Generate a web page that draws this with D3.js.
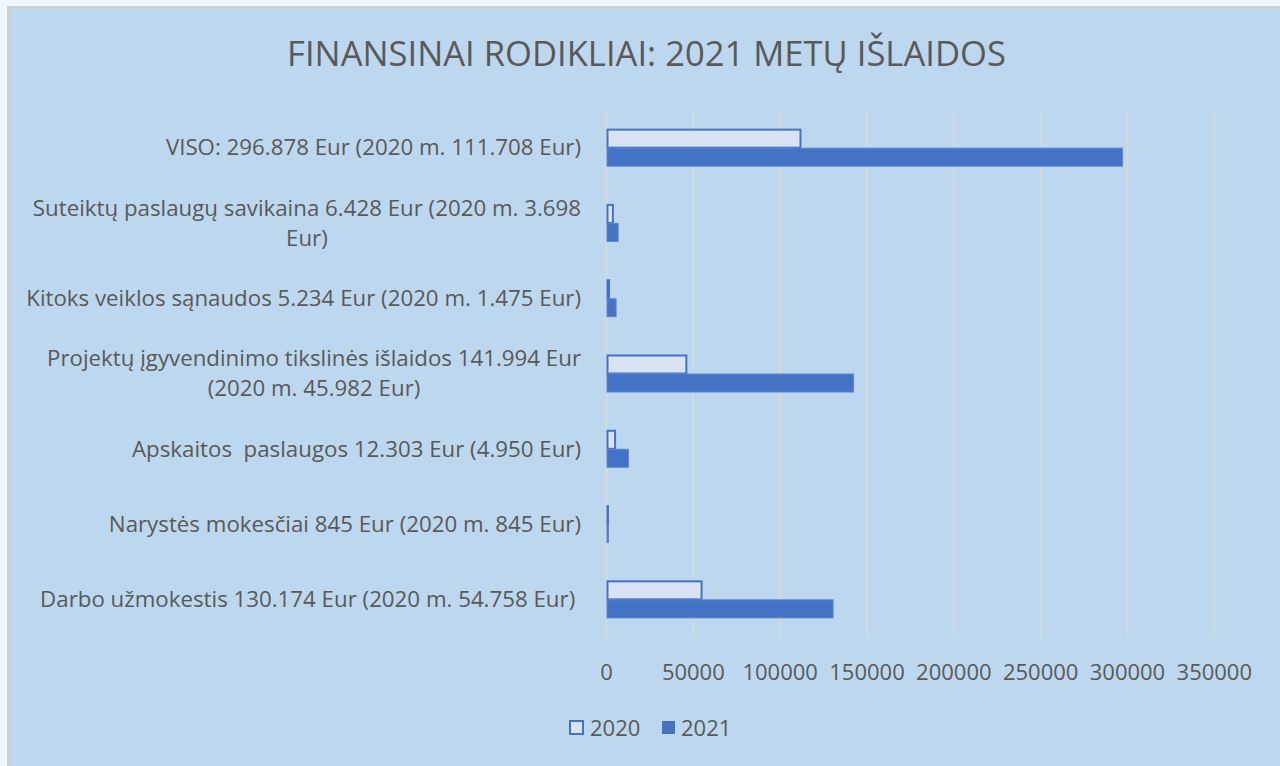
<!DOCTYPE html>
<html>
<head>
<meta charset="utf-8">
<script src="https://cdn.jsdelivr.net/npm/d3@7"></script>
<style>
  html, body { margin: 0; padding: 0; background: #EEF6FF; }
  svg { display: block; font-family: "Open Sans", sans-serif; }
  .lbl { white-space: pre; }
</style>
</head>
<body>
<svg id="chart" width="1280" height="766"></svg>
<script>
// Category labels (top to bottom), each split into display lines
const categories = ['VISO', 'Suteiktu', 'Kitoks', 'Projektu', 'Apskaitos', 'Narystes', 'Darbo'];
const labelLines = [
    ['VISO: 296.878 Eur (2020 m. 111.708 Eur)'],
    ['Suteiktų paslaugų savikaina 6.428 Eur (2020 m. 3.698', 'Eur)'],
    ['Kitoks veiklos sąnaudos 5.234 Eur (2020 m. 1.475 Eur)'],
    ['Projektų įgyvendinimo tikslinės išlaidos 141.994 Eur', '(2020 m. 45.982 Eur)'],
    ['Apskaitos  paslaugos 12.303 Eur (4.950 Eur)'],
    ['Narystės mokesčiai 845 Eur (2020 m. 845 Eur)'],
    ['Darbo užmokestis 130.174 Eur (2020 m. 54.758 Eur) ']
];
const values2020 = [111708, 3698, 1475, 45982, 4950, 845, 54758];
const values2021 = [296878, 6428, 5234, 141994, 12303, 845, 130174];
const seriesNames = ['2020', '2021'];
const xTicks = [0, 50000, 100000, 150000, 200000, 250000, 300000, 350000];
const titleText = 'FINANSINAI RODIKLIAI: 2021 METŲ IŠLAIDOS';

const TEXT = '#595959';
const BLUE = '#4472C4';
const LIGHT = '#DAE3F3';
const GRID = '#D9D9D9';

const svg = d3.select('#chart');

// chart area background + border
svg.append('rect').attr('x', 7).attr('y', 6).attr('width', 1290).attr('height', 780)
    .attr('fill', '#D0D0D0');
svg.append('rect').attr('x', 10).attr('y', 8).attr('width', 1290).attr('height', 780)
    .attr('fill', '#BDD7EE');

const plot = { left: 606.5, right: 1214.3, top: 110, bottom: 637 };

const x = d3.scaleLinear().domain([0, 350000]).range([plot.left, plot.right]);
const y = d3.scaleBand().domain(categories).range([plot.top, plot.bottom])
    .paddingInner(0.495).paddingOuter(0.2475);
const ySub = d3.scaleBand().domain(seriesNames).range([0, y.bandwidth()]);

// fit a font size so the text matches a target width
function fitSize(text, target, base) {
    const t = svg.append('text').attr('class', 'lbl').attr('font-size', base).text(text);
    const w = t.node().getComputedTextLength();
    t.remove();
    return base * target / w;
}

// title
const titleSize = fitSize(titleText, 719, 30);
svg.append('text')
    .attr('x', 646.5).attr('y', 66)
    .attr('text-anchor', 'middle')
    .attr('font-size', titleSize)
    .attr('fill', TEXT)
    .text(titleText);

// gridlines
svg.append('g').selectAll('line')
    .data(xTicks)
    .join('line')
    .attr('x1', d => x(d)).attr('x2', d => x(d))
    .attr('y1', plot.top).attr('y2', plot.bottom)
    .attr('stroke', GRID).attr('stroke-width', 1.5);

// x axis tick labels
const tickSize = 22;
svg.append('g').selectAll('text')
    .data(xTicks)
    .join('text')
    .attr('x', d => x(d)).attr('y', 680)
    .attr('text-anchor', 'middle')
    .attr('font-size', tickSize)
    .attr('fill', TEXT)
    .text(d => d);

// bars
const rows = categories.map((c, i) => ({ cat: c, v2020: values2020[i], v2021: values2021[i] }));

svg.append('g').selectAll('rect')
    .data(rows)
    .join('rect')
    .attr('x', x(0) + 1)
    .attr('y', d => y(d.cat) + ySub('2020') + 1)
    .attr('width', d => Math.max(0, x(d.v2020) - x(0) - 1))
    .attr('height', ySub.bandwidth() - 1)
    .attr('fill', LIGHT)
    .attr('stroke', BLUE)
    .attr('stroke-width', 2);

svg.append('g').selectAll('rect')
    .data(rows)
    .join('rect')
    .attr('x', x(0) + 0.5)
    .attr('y', d => y(d.cat) + ySub('2021') + 0.5)
    .attr('width', d => x(d.v2021) - x(0))
    .attr('height', ySub.bandwidth() - 1)
    .attr('fill', BLUE)
    .attr('stroke', '#5B86D0')
    .attr('stroke-width', 1);

// category labels
const labelSize = fitSize(labelLines[2][0], 555, 20);
const lineH = labelSize * 1.33;
const labelRight = 581;

categories.forEach((c, i) => {
    const lines = labelLines[i];
    const cy = y(c) + y.bandwidth() / 2;
    const g = svg.append('g');
    const texts = g.selectAll('text')
        .data(lines)
        .join('text')
        .attr('class', 'lbl')
        .attr('font-size', labelSize)
        .attr('fill', TEXT)
        .attr('text-anchor', 'middle')
        .attr('dy', '0.35em')
        .attr('y', (d, k) => cy + (k - (lines.length - 1) / 2) * lineH)
        .text(d => d);
    const widths = texts.nodes().map(n => n.getComputedTextLength());
    const maxW = d3.max(widths);
    texts.attr('x', labelRight - maxW / 2);
});

// legend
const legend = [
    { name: '2020', box: 569, text: 590, fill: LIGHT, stroke: BLUE },
    { name: '2021', box: 661, text: 681, fill: BLUE, stroke: 'none' }
];
const lg = svg.append('g');
lg.selectAll('rect')
    .data(legend)
    .join('rect')
    .attr('x', d => d.box + 1).attr('y', 721)
    .attr('width', 13).attr('height', 13)
    .attr('fill', d => d.fill)
    .attr('stroke', d => d.stroke)
    .attr('stroke-width', 2);
lg.selectAll('text')
    .data(legend)
    .join('text')
    .attr('x', d => d.text).attr('y', 736)
    .attr('font-size', tickSize)
    .attr('fill', TEXT)
    .text(d => d.name);
</script>
</body>
</html>
